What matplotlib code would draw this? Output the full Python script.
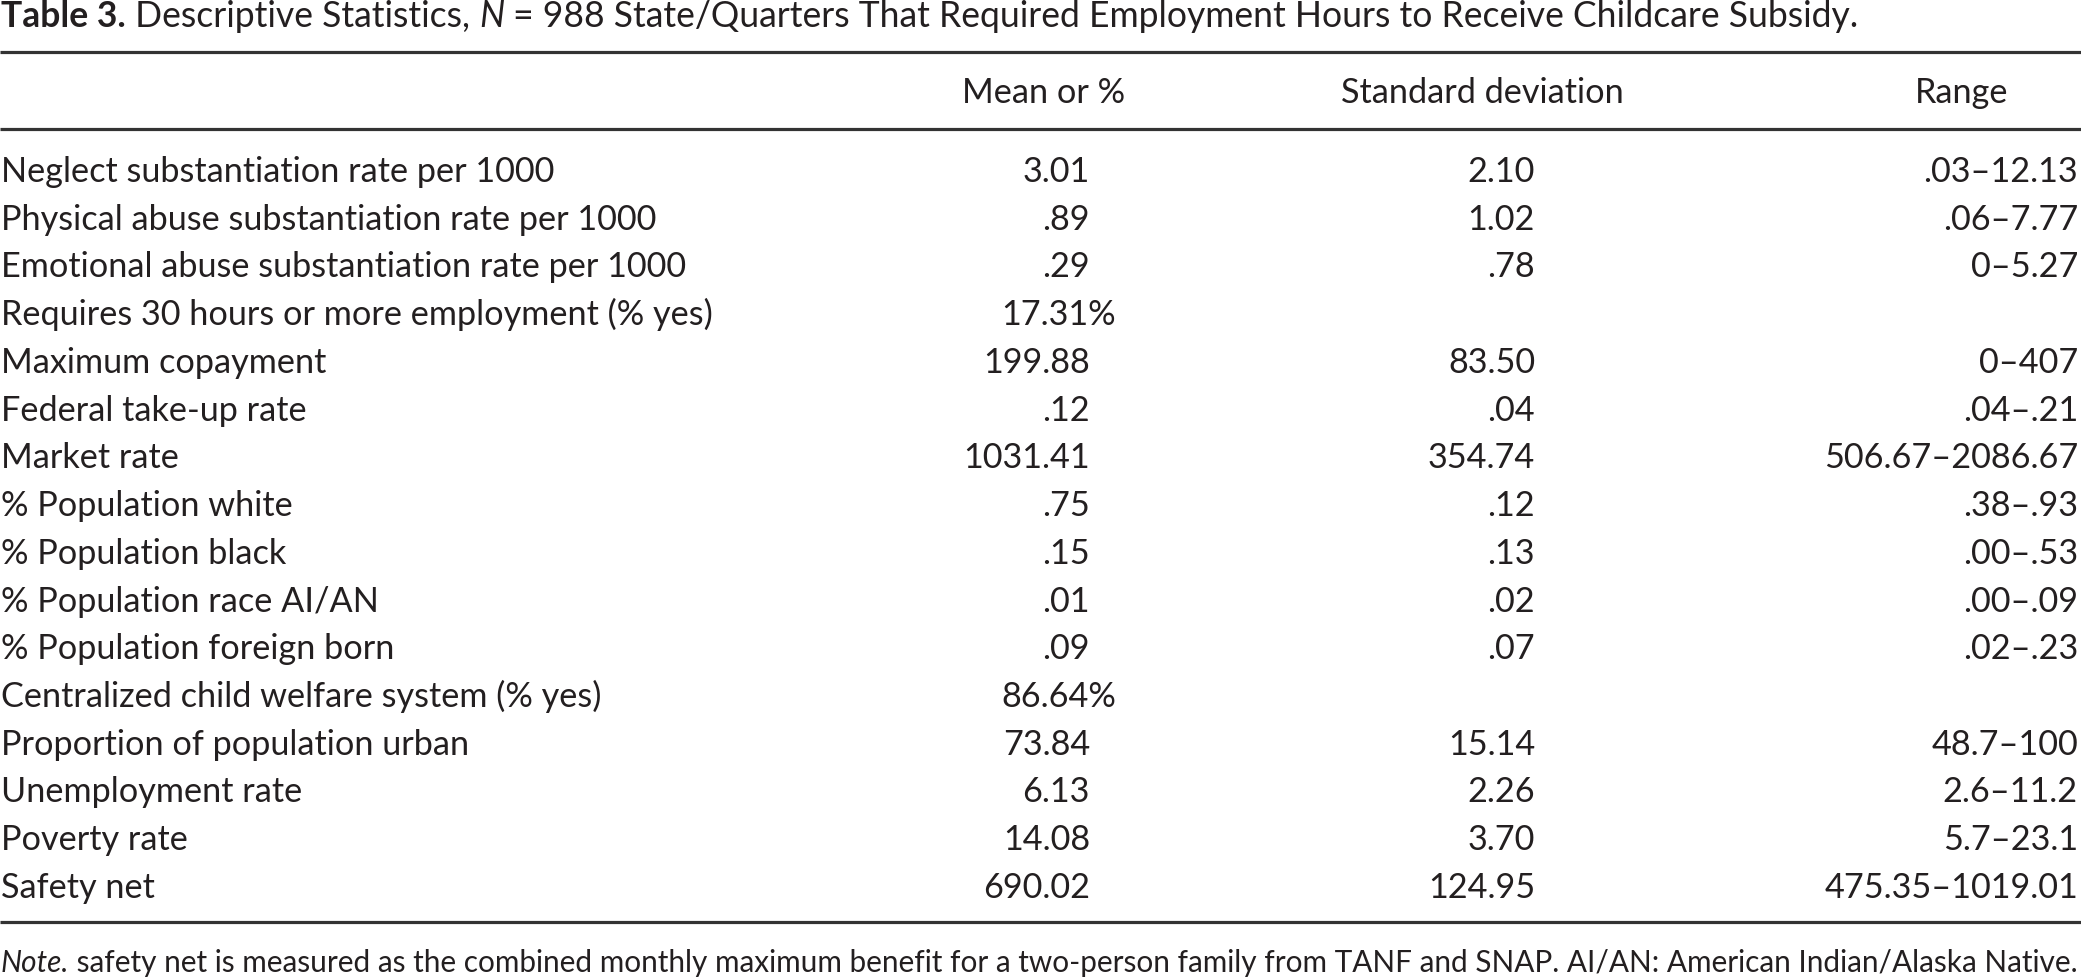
import matplotlib
matplotlib.use("Agg")
import matplotlib.pyplot as plt

labels = [
    "Neglect substantiation rate per 1000",
    "Physical abuse substantiation rate per 1000",
    "Emotional abuse substantiation rate per 1000",
    "Requires 30 hours or more employment (% yes)",
    "Maximum copayment",
    "Federal take-up rate",
    "Market rate",
    "% Population white",
    "% Population black",
    "% Population race AI/AN",
    "% Population foreign born",
    "Centralized child welfare system (% yes)",
    "Proportion of population urban",
    "Unemployment rate",
    "Poverty rate",
    "Safety net",
]
means = ["3.01", ".89", ".29", "17.31%", "199.88", ".12", "1031.41", ".75",
         ".15", ".01", ".09", "86.64%", "73.84", "6.13", "14.08", "690.02"]
sds = ["2.10", "1.02", ".78", "", "83.50", ".04", "354.74", ".12",
       ".13", ".02", ".07", "", "15.14", "2.26", "3.70", "124.95"]
ranges = [".03\u201312.13", ".06\u20137.77", "0\u20135.27", "", "0\u2013407",
          ".04\u2013.21", "506.67\u20132086.67", ".38\u2013.93", ".00\u2013.53",
          ".00\u2013.09", ".02\u2013.23", "", "48.7\u2013100", "2.6\u201311.2",
          "5.7\u201323.1", "475.35\u20131019.01"]
headers = ["Mean or %", "Standard deviation", "Range"]
note = (" safety net is measured as the combined monthly maximum benefit for a "
        "two-person family from TANF and SNAP. AI/AN: American Indian/Alaska Native.")

W, H = 2081, 980
FONT = "Lato"
INK = "#231f20"
BODY = 24.7
TITLE = 25.6
NOTE = 21.4

fig = plt.figure(figsize=(W / 100, H / 100), dpi=100)
ax = fig.add_axes([0, 0, 1, 1])
ax.set_xlim(0, W)
ax.set_ylim(H, 0)
ax.axis("off")

fig.canvas.draw()
r = fig.canvas.get_renderer()

# title, built from pieces
x = 1
for txt, wt, st in [("Table 3.", "bold", "normal"),
                    (" Descriptive Statistics, ", "normal", "normal"),
                    ("N", "normal", "italic"),
                    (" = 988 State/Quarters That Required Employment Hours to Receive Childcare Subsidy.", "normal", "normal")]:
    t = ax.text(x, 27, txt, fontsize=TITLE, family=FONT, weight=wt, style=st,
                color=INK, va="baseline", ha="left")
    x += t.get_window_extent(r).width

for y in (52, 129, 922):
    ax.plot([0, W], [y, y], color="#333333", lw=2.3, solid_capstyle="butt")

ax.text(1044, 103, headers[0], fontsize=BODY, family=FONT, color=INK, ha="center", va="baseline")
ax.text(1482, 103, headers[1], fontsize=BODY, family=FONT, color=INK, ha="center", va="baseline")
ax.text(1962, 103, headers[2], fontsize=BODY, family=FONT, color=INK, ha="center", va="baseline")

y0, dy = 182, 47.73
for i in range(len(labels)):
    y = y0 + i * dy
    ax.text(1, y, labels[i], fontsize=BODY, family=FONT, color=INK, ha="left", va="baseline")
    mx = 1116 if means[i].endswith("%") else 1090
    ax.text(mx, y, means[i], fontsize=BODY, family=FONT, color=INK, ha="right", va="baseline")
    ax.text(1535, y, sds[i], fontsize=BODY, family=FONT, color=INK, ha="right", va="baseline")
    ax.text(2078, y, ranges[i], fontsize=BODY, family=FONT, color=INK, ha="right", va="baseline")

t = ax.text(1, 972, "Note.", fontsize=NOTE, family=FONT, style="italic", color=INK, ha="left", va="baseline")
ax.text(1 + t.get_window_extent(r).width, 972, note,
        fontsize=NOTE, family=FONT, color=INK, ha="left", va="baseline")

fig.savefig("out.png", dpi=100)
